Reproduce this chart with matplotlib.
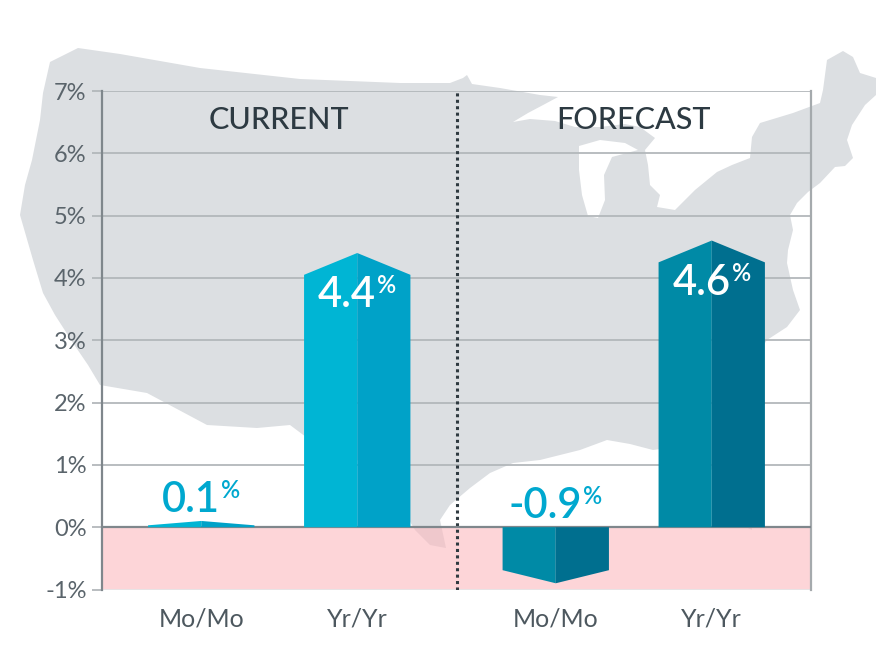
import numpy as np
import matplotlib
matplotlib.use("Agg")
import matplotlib.pyplot as plt

plt.rcParams['font.family'] = ['Lato', 'DejaVu Sans']

# data
groups = ['CURRENT', 'FORECAST']
categories = ['Mo/Mo', 'Yr/Yr', 'Mo/Mo', 'Yr/Yr']
values = [0.1, 4.4, -0.9, 4.6]
value_labels = ['0.1', '4.4', '-0.9', '4.6']
y_ticks = [-1, 0, 1, 2, 3, 4, 5, 6, 7]
y_tick_labels = ['-1%', '0%', '1%', '2%', '3%', '4%', '5%', '6%', '7%']

# style
x_pos = [0.28, 0.72, 1.28, 1.72]
bar_w = 0.30
left_cols = ['#00b5d4', '#00b5d4', '#008aa6', '#008aa6']
right_cols = ['#00a2c8', '#00a2c8', '#006f8f', '#006f8f']
label_cyan = '#00a8cf'
map_col = '#dcdfe2'

# rough US silhouette for the background (pixel coords of the figure)
map_outline = [(78, 48), (120, 54), (200, 68), (300, 79), (400, 83), (450, 83), (463, 78), (467, 75),
               (472, 84), (500, 88), (540, 95), (558, 97), (545, 104), (528, 113), (513, 122), (530, 119),
               (555, 121), (575, 127), (600, 127), (625, 124), (640, 127), (655, 138), (645, 150),
               (648, 165), (650, 185), (660, 195), (657, 207), (675, 210), (695, 190), (717, 172),
               (732, 165), (750, 158), (752, 137), (760, 123), (793, 113), (820, 103), (823, 90),
               (827, 60), (843, 51), (853, 57), (860, 73), (876, 78), (876, 95), (865, 105), (852, 125),
               (847, 140), (853, 158), (845, 166), (835, 167), (820, 183), (808, 192), (797, 203),
               (790, 215), (793, 230), (788, 250), (787, 263), (793, 290), (800, 310), (787, 327),
               (767, 340), (750, 365), (738, 395), (735, 420), (742, 455), (752, 495), (752, 530),
               (742, 525), (728, 495), (712, 470), (695, 455), (675, 447), (653, 450), (630, 444),
               (607, 440), (580, 450), (560, 455), (540, 460), (513, 463), (490, 473), (470, 488),
               (450, 505), (440, 520), (446, 548), (430, 545), (415, 530), (400, 505), (375, 475),
               (345, 450), (310, 440), (290, 425), (257, 428), (207, 425), (147, 393), (100, 385),
               (88, 365), (73, 343), (55, 315), (43, 293), (33, 260), (20, 215), (25, 185), (32, 160),
               (40, 120), (43, 93), (50, 62)]
lake_michigan = [(579, 146), (600, 140), (625, 143), (638, 150), (612, 157), (604, 175), (605, 200),
                 (598, 218), (588, 216), (582, 195), (579, 170)]

fig = plt.figure(figsize=(8.76, 6.51), dpi=100)

bg = fig.add_axes([0, 0, 1, 1], zorder=0)
bg.set_xlim(0, 876)
bg.set_ylim(651, 0)
bg.axis('off')
mx, my = zip(*map_outline)
bg.fill(mx, my, color=map_col, lw=0)
lx, ly = zip(*lake_michigan)
bg.fill(lx, ly, color='white', lw=0)

ax = fig.add_axes([102 / 876, 1 - 589.5 / 651, 709 / 876, 498.5 / 651], zorder=1)
ax.patch.set_alpha(0)
ax.set_xlim(0, 2)
ax.set_ylim(-1, 7)

# negative band
ax.axhspan(-1, 0, color='#fcb9be', alpha=0.6, lw=0, zorder=1)

for t in range(1, 8):
    ax.axhline(t, color='#b3b8bb', lw=1.3, zorder=2)
ax.axhline(0, color='#7f878c', lw=1.6, zorder=4)
ax.axvline(1.0, color='#2f3a40', lw=2.2, linestyle=(0, (1, 1.1)), zorder=3)

for sp in ['top', 'bottom']:
    ax.spines[sp].set_visible(False)
ax.spines['left'].set_color('#7f878c')
ax.spines['left'].set_linewidth(1.6)
ax.spines['right'].set_color('#a5aaad')
ax.spines['right'].set_linewidth(1.6)
ax.axhline(-1, color='#e4e6e8', lw=1.2, zorder=2)

# bars with pointed tip
for x, v, lc, rc in zip(x_pos, values, left_cols, right_cols):
    tip = min(0.35, 0.35 * np.sqrt(abs(v) / 2.5)) * np.sign(v)
    s = v - tip
    h = bar_w / 2
    ax.fill([x - h, x - h, x, x], [0, s, v, 0], color=lc, lw=0, zorder=5)
    ax.fill([x, x, x + h, x + h], [0, v, s, 0], color=rc, lw=0, zorder=5)

ax.set_yticks(y_ticks)
ax.set_yticklabels(y_tick_labels, fontsize=17, fontweight='normal', color='#5a646b')
ax.tick_params(axis='y', length=7, width=1.3, color='#b3b8bb', pad=4)
ax.set_xticks(x_pos)
ax.set_xticklabels(categories, fontsize=18, fontweight='normal', color='#4d585f')
ax.tick_params(axis='x', length=0, pad=13)

for i, g in enumerate(groups):
    ax.text(0.5 + i, 6.53, g, ha='center', va='center', fontsize=22,
            fontweight='medium', color='#2d3a42')

# value labels with small superscript %
fig.canvas.draw()
r = fig.canvas.get_renderer()
for x, v, lab in zip(x_pos, values, value_labels):
    if v > 1:
        col, yv, dy = 'white', v, -54
    else:
        col, yv, dy = label_cyan, max(v, 0), 9
    tn = ax.annotate(lab, (x, yv), xytext=(0, dy), textcoords='offset pixels',
                     ha='left', va='baseline', fontsize=30, fontweight='semibold',
                     color=col, zorder=6)
    tp = ax.annotate('%', (x, yv), xytext=(0, dy + 14), textcoords='offset pixels',
                     ha='left', va='baseline', fontsize=17, fontweight='semibold',
                     color=col, zorder=6)
    wn = tn.get_window_extent(r).width
    wp = tp.get_window_extent(r).width
    gap = 1
    total = wn + gap + wp
    tn.set_position((-total / 2, dy))
    tp.set_position((-total / 2 + wn + gap, dy + 14))

fig.savefig('out.png', dpi=100)
